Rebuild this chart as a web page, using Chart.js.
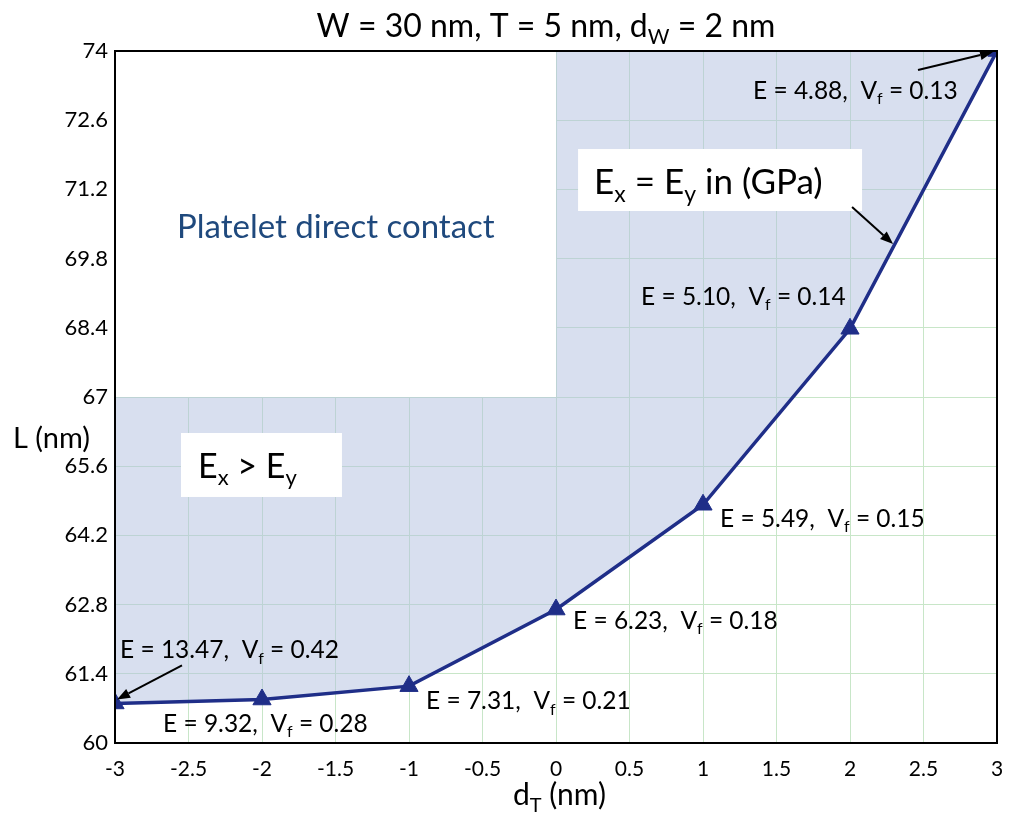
<!DOCTYPE html>
<html>
<head>
<meta charset="utf-8">
<script src="https://cdn.jsdelivr.net/npm/chart.js@4.4.1/dist/chart.umd.min.js"></script>
<style>
  html, body { margin: 0; padding: 0; background: #ffffff; }
  #wrap { width: 1018px; height: 816px; position: relative; }
</style>
</head>
<body>
<div id="wrap"><canvas id="c" width="1018" height="816"></canvas></div>
<script>
// Platelet offset d_T (nm) and resulting overlap length L (nm)
const dT = [-3, -2, -1, 0, 1, 2, 3];
const lengthL = [60.8, 60.88, 61.15, 62.7, 64.82, 68.38, 74];

// Effective modulus (GPa) and volume fraction at each point
const modulusE = ['13.47', '9.32', '7.31', '6.23', '5.49', '5.10', '4.88'];
const volFrac = ['0.42', '0.28', '0.21', '0.18', '0.15', '0.14', '0.13'];

// Axis ticks
const xTicks = [-3, -2.5, -2, -1.5, -1, -0.5, 0, 0.5, 1, 1.5, 2, 2.5, 3];
const yTicks = [60, 61.4, 62.8, 64.2, 65.6, 67, 68.4, 69.8, 71.2, 72.6, 74];

// Upper edge of the shaded region (E_x > E_y below 67 on the left, E_x = E_y on the right)
const zoneX = [-3, 0, 0, 3];
const zoneTop = [67, 67, 74, 74];

const FONT = 'Lato, "Open Sans", sans-serif';
const NAVY = '#1f2e88';

// Splits text with _{...} subscripts into runs
function richParts(text) {
  const parts = [];
  const re = /_\{([^}]*)\}/g;
  let last = 0, m;
  while ((m = re.exec(text)) !== null) {
    if (m.index > last) parts.push({ t: text.slice(last, m.index), sub: false });
    parts.push({ t: m[1], sub: true });
    last = re.lastIndex;
  }
  if (last < text.length) parts.push({ t: text.slice(last), sub: false });
  return parts;
}
function drawRich(ctx, text, x, y, size, color, align) {
  const parts = richParts(text);
  const subSize = Math.round(size * 0.66);
  let total = 0;
  for (const p of parts) {
    ctx.font = (p.sub ? subSize : size) + 'px ' + FONT;
    p.w = ctx.measureText(p.t).width;
    total += p.w;
  }
  let cx = x;
  if (align === 'center') cx = x - total / 2;
  else if (align === 'right') cx = x - total;
  ctx.fillStyle = color;
  ctx.textBaseline = 'alphabetic';
  ctx.textAlign = 'left';
  for (const p of parts) {
    ctx.font = (p.sub ? subSize : size) + 'px ' + FONT;
    ctx.fillText(p.t, cx, p.sub ? y + size * 0.22 : y);
    cx += p.w;
  }
}
function drawArrow(ctx, x1, y1, x2, y2) {
  const ang = Math.atan2(y2 - y1, x2 - x1);
  const len = 13, half = 5;
  const bx = x2 - len * Math.cos(ang), by = y2 - len * Math.sin(ang);
  ctx.save();
  ctx.strokeStyle = '#000';
  ctx.fillStyle = '#000';
  ctx.lineWidth = 2;
  ctx.beginPath();
  ctx.moveTo(x1, y1);
  ctx.lineTo(bx, by);
  ctx.stroke();
  ctx.beginPath();
  ctx.moveTo(x2, y2);
  ctx.lineTo(bx + half * Math.sin(ang), by - half * Math.cos(ang));
  ctx.lineTo(bx - half * Math.sin(ang), by + half * Math.cos(ang));
  ctx.closePath();
  ctx.fill();
  ctx.restore();
}

// Point label placement: pixel offset of the label's left/baseline from its point
const labelOffsets = [[5, -45], [-99, 32], [17, 23], [17, 19], [17, 22], [-209, -24], [-244, 48]];

const zonePlugin = {
  id: 'zones',
  beforeDatasetsDraw(chart) {
    const { ctx, scales: { x, y } } = chart;
    ctx.save();
    // Platelet direct contact zone: plain white, no grid
    ctx.fillStyle = '#ffffff';
    const wx1 = x.getPixelForValue(zoneX[0]), wx2 = x.getPixelForValue(zoneX[1]);
    const wy1 = y.getPixelForValue(74), wy2 = y.getPixelForValue(zoneTop[0]);
    ctx.fillRect(wx1, wy1, wx2 - wx1, wy2 - wy1);
    // Shaded stiffness region between the boundary and the L curve
    ctx.beginPath();
    zoneX.forEach((v, i) => {
      const px = x.getPixelForValue(v), py = y.getPixelForValue(zoneTop[i]);
      if (i === 0) ctx.moveTo(px, py); else ctx.lineTo(px, py);
    });
    for (let i = dT.length - 1; i >= 0; i--) {
      ctx.lineTo(x.getPixelForValue(dT[i]), y.getPixelForValue(lengthL[i]));
    }
    ctx.closePath();
    ctx.fillStyle = 'rgba(178, 192, 224, 0.5)';
    ctx.fill();
    ctx.restore();
  },
  afterDatasetsDraw(chart) {
    const { ctx, chartArea: a, scales: { x, y } } = chart;
    ctx.save();
    // Frame
    ctx.strokeStyle = '#000';
    ctx.lineWidth = 2;
    ctx.strokeRect(a.left, a.top, a.right - a.left, a.bottom - a.top);

    // Point labels
    dT.forEach((v, i) => {
      const px = x.getPixelForValue(v), py = y.getPixelForValue(lengthL[i]);
      const o = labelOffsets[i];
      drawRich(ctx, 'E = ' + modulusE[i] + ',  V_{f} = ' + volFrac[i], px + o[0], py + o[1], 24.5, '#000', 'left');
    });

    // Arrows to the end points
    const p0x = x.getPixelForValue(dT[0]), p0y = y.getPixelForValue(lengthL[0]);
    drawArrow(ctx, p0x + 67, p0y - 38, p0x + 2, p0y - 4);
    const pnx = x.getPixelForValue(dT[6]), pny = y.getPixelForValue(lengthL[6]);
    drawArrow(ctx, pnx - 79, pny + 19, pnx - 4, pny + 1);

    // Region captions
    drawRich(ctx, 'Platelet direct contact', x.getPixelForValue(-2.578), y.getPixelForValue(70.217), 33, '#1f497d', 'left');

    ctx.fillStyle = '#ffffff';
    let bx1 = x.getPixelForValue(0.150), bx2 = x.getPixelForValue(2.082);
    let by1 = y.getPixelForValue(72.017), by2 = y.getPixelForValue(70.763);
    ctx.fillRect(bx1, by1, bx2 - bx1, by2 - by1);
    drawRich(ctx, 'E_{x} = E_{y} in (GPa)', x.getPixelForValue(0.259), y.getPixelForValue(71.107), 35, '#000', 'left');
    drawArrow(ctx, x.getPixelForValue(2.014), y.getPixelForValue(70.844), x.getPixelForValue(2.293), y.getPixelForValue(70.095));

    ctx.fillStyle = '#ffffff';
    bx1 = x.getPixelForValue(-2.551); bx2 = x.getPixelForValue(-1.456);
    by1 = y.getPixelForValue(66.272); by2 = y.getPixelForValue(64.977);
    ctx.fillRect(bx1, by1, bx2 - bx1, by2 - by1);
    drawRich(ctx, 'E_{x} > E_{y}', x.getPixelForValue(-2.435), y.getPixelForValue(65.362), 34, '#000', 'left');
    ctx.restore();
  },
  afterDraw(chart) {
    const { ctx } = chart;
    ctx.save();
    drawRich(ctx, 'W = 30 nm, T = 5 nm, d_{W} = 2 nm', 546, 37, 32, '#000', 'center');
    drawRich(ctx, 'L (nm)', 13, 448, 29, '#000', 'left');
    drawRich(ctx, 'd_{T} (nm)', 513, 805, 30, '#000', 'left');
    ctx.restore();
  }
};

new Chart(document.getElementById('c'), {
  type: 'line',
  data: {
    datasets: [{
      data: dT.map((v, i) => ({ x: v, y: lengthL[i] })),
      borderColor: NAVY,
      backgroundColor: NAVY,
      borderWidth: 3.5,
      pointStyle: 'triangle',
      pointRadius: 10.5,
      pointBorderWidth: 1,
      pointBorderColor: NAVY,
      pointBackgroundColor: NAVY,
      tension: 0,
      clip: 0
    }]
  },
  options: {
    responsive: false,
    animation: false,
    events: [],
    layout: { padding: { top: 51, right: 21, bottom: 0, left: 0 } },
    plugins: { legend: { display: false }, tooltip: { enabled: false }, title: { display: false } },
    scales: {
      x: {
        type: 'linear', min: -3, max: 3,
        afterBuildTicks(s) { s.ticks = xTicks.map(v => ({ value: v })); },
        afterFit(s) { s.height = 73; },
        grid: { color: '#c8e6c8', lineWidth: 1, drawTicks: false },
        border: { display: false },
        ticks: { color: '#000', font: { family: FONT, size: 21 }, padding: 14, maxRotation: 0, autoSkip: false,
                 callback: v => String(v) }
      },
      y: {
        type: 'linear', min: 60, max: 74,
        afterBuildTicks(s) { s.ticks = yTicks.map(v => ({ value: v })); },
        afterFit(s) { s.width = 115; },
        grid: { color: '#c8e6c8', lineWidth: 1, drawTicks: false },
        border: { display: false },
        ticks: { color: '#000', font: { family: FONT, size: 22 }, padding: 7, autoSkip: false,
                 callback: v => String(v) }
      }
    }
  },
  plugins: [zonePlugin]
});
</script>
</body>
</html>
